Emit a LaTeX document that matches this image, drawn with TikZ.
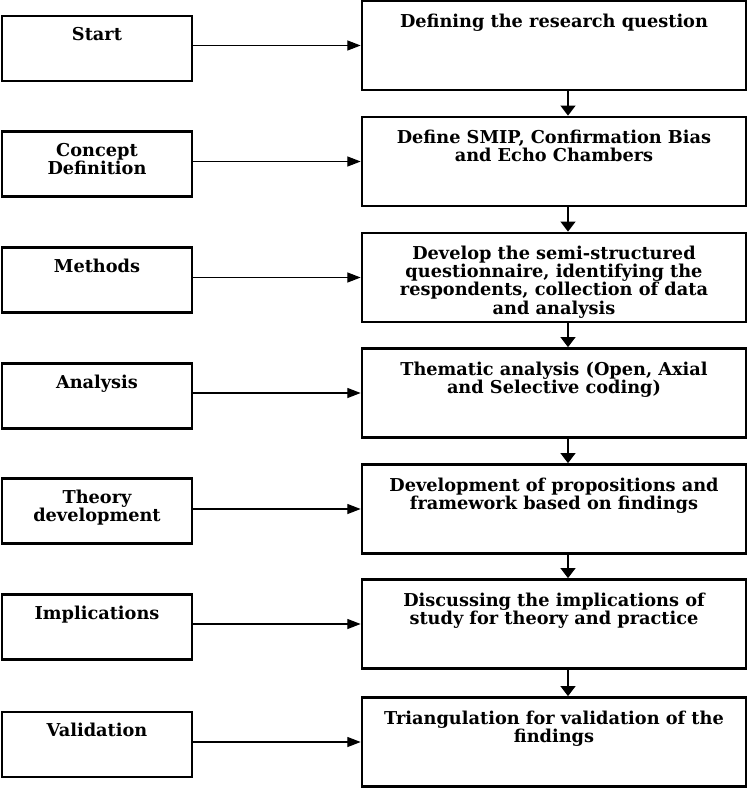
\documentclass[tikz,border=0pt]{standalone}
\usepackage{fontspec}
\setmainfont{DejaVu Serif}
\usetikzlibrary{arrows.meta}
\newcommand\StageText[1]{\parbox[c][48.75pt][t]{142.5pt}{\centering\rule{0pt}{18.5pt}#1}}
\newcommand\TaskText[1]{\parbox[c][66.75pt][t]{288pt}{\centering\rule{0pt}{20pt}#1}}

\begin{document}
\begin{tikzpicture}[x=0.75pt,y=-0.75pt,
	stage/.style={draw,line width=2pt,inner sep=0pt,
		font=\bfseries\fontsize{13.3}{13.6}\selectfont},
	task/.style={stage},
	harrow/.style={line width=0.9pt,-{Triangle[length=10pt,width=7.5pt]}},
	varrow/.style={line width=1.4pt,-{Triangle[length=7.5pt,width=11pt]}}]
	
	% we fix the size of the picture
	\useasboundingbox (0,0) rectangle (749,789);
	
	% we draw the boxes of the stages on the left
	\node[stage] (s1) at (97,48.5) {\StageText{Start}};
	\node[stage] (s2) at (97,164) {\StageText{Concept\\Definition}};
	\node[stage] (s3) at (97,280) {\StageText{Methods}};
	\node[stage] (s4) at (97,396) {\StageText{Analysis}};
	\node[stage] (s5) at (97,511) {\StageText{Theory\\development}};
	\node[stage] (s6) at (97,627) {\StageText{Implications}};
	\node[stage] (s7) at (97,744.5) {\StageText{Validation}};
	
	% we draw the boxes of the tasks on the right
	\node[task] (t1) at (554,45.5) {\TaskText{Defining the research question}};
	\node[task] (t2) at (554,161.5) {\TaskText{Define SMIP, Confirmation Bias\\and Echo Chambers}};
	\node[task] (t3) at (554,277.5) {\TaskText{Develop the semi-structured\\questionnaire, identifying the\\respondents, collection of data\\and analysis}};
	\node[task] (t4) at (554,393) {\TaskText{Thematic analysis (Open, Axial\\and Selective coding)}};
	\node[task] (t5) at (554,509) {\TaskText{Development of propositions and\\framework based on findings}};
	\node[task] (t6) at (554,624) {\TaskText{Discussing the implications of\\study for theory and practice}};
	\node[task] (t7) at (554,742) {\TaskText{Triangulation for validation of the\\findings}};
	
	% we draw the arrows from each stage to its task
	\foreach \i in {1,...,7}
	\draw[harrow] (s\i.east |- t\i) -- (t\i.west);
	
	% we draw the arrows down the column of tasks
	\foreach \i [evaluate=\i as \j using int(\i+1)] in {1,...,6}
	\draw[varrow] ([xshift=10.5pt]t\i.south) -- ([xshift=10.5pt]t\j.north);
\end{tikzpicture}
\end{document}
